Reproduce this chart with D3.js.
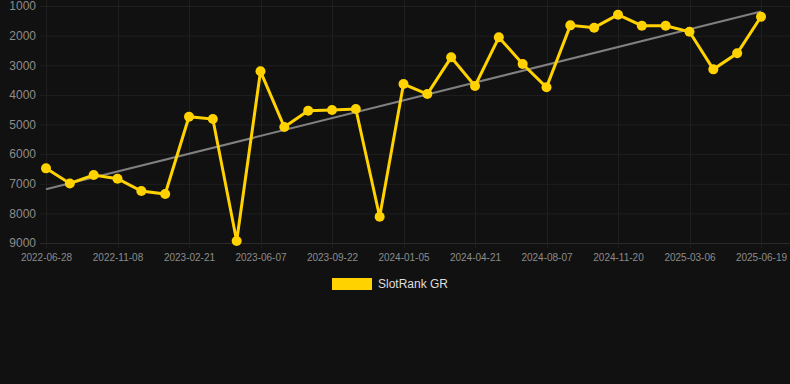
<!DOCTYPE html>
<html>
<head>
<meta charset="utf-8">
<script src="https://cdn.jsdelivr.net/npm/d3@7"></script>
<style>
  html, body { margin: 0; padding: 0; background: #111111; }
  svg { display: block; font-family: "Liberation Sans", Arial, sans-serif; }
</style>
</head>
<body>
<script>
// dates of the data points (only every third one is labelled on the axis)
const categories = [
  '2022-06-28', '2022-08-11', '2022-09-25', '2022-11-08', '2022-12-13', '2023-01-17',
  '2023-02-21', '2023-03-28', '2023-05-03', '2023-06-07', '2023-07-13', '2023-08-17',
  '2023-09-22', '2023-10-27', '2023-12-01', '2024-01-05', '2024-02-09', '2024-03-16',
  '2024-04-21', '2024-05-27', '2024-07-02', '2024-08-07', '2024-09-11', '2024-10-16',
  '2024-11-20', '2024-12-25', '2025-01-29', '2025-03-06', '2025-04-10', '2025-05-15',
  '2025-06-19'
];

// SlotRank GR rank values
const rankValues = [
  6480, 6990, 6705, 6830, 7246, 7347,
  4737, 4815, 8933, 3205, 5085, 4534,
  4511, 4477, 8113, 3633, 3971, 2733,
  3701, 2058, 2958, 3745, 1653, 1732,
  1293, 1664, 1664, 1867, 3139, 2597,
  1361
];

const yTicks = [1000, 2000, 3000, 4000, 5000, 6000, 7000, 8000, 9000];
const xTickLabels = categories.filter(function (d, i) { return i % 3 === 0; });

const seriesName = 'SlotRank GR';
const lineColor = '#ffd200';

const width = 790;
const height = 384;

const svg = d3.select('body')
  .append('svg')
  .attr('width', width)
  .attr('height', height);

let x = d3.scalePoint().domain(categories).range([46, 761]);
let y = d3.scaleLinear().domain([1000, 9000]).range([6, 243]);

// grid
svg.append('g')
  .attr('class', 'grid-y')
  .selectAll('line')
  .data(yTicks)
  .enter()
  .append('line')
  .attr('x1', 40)
  .attr('x2', width)
  .attr('y1', function (d) { return y(d) + 0.5; })
  .attr('y2', function (d) { return y(d) + 0.5; })
  .style('stroke', function (d) { return d === 9000 ? '#2a2a2a' : '#1f1f1f'; })
  .style('stroke-width', 1);

svg.append('g')
  .attr('class', 'grid-x')
  .selectAll('line')
  .data(xTickLabels)
  .enter()
  .append('line')
  .attr('x1', function (d) { return Math.round(x(d)) + 0.5; })
  .attr('x2', function (d) { return Math.round(x(d)) + 0.5; })
  .attr('y1', 0)
  .attr('y2', y(9000) + 5)
  .style('stroke', '#1f1f1f')
  .style('stroke-width', 1);

// axes
let yAxis = d3.axisLeft(y).tickValues(yTicks).tickSize(0).tickPadding(10).tickFormat(d3.format('d'));
let xAxis = d3.axisBottom(x).tickValues(xTickLabels).tickSize(0).tickPadding(11);

let gy = svg.append('g')
  .attr('transform', 'translate(46,0)')
  .call(yAxis);
gy.select('.domain').remove();
gy.selectAll('text')
  .style('font-size', '12px')
  .style('fill', '#8c8c8c');

let gx = svg.append('g')
  .attr('transform', 'translate(0,' + y(9000) + ')')
  .call(xAxis);
gx.select('.domain').remove();
gx.selectAll('text')
  .style('font-size', '10px')
  .style('fill', '#8c8c8c');

// linear trend from the data
let n = rankValues.length;
let xs = d3.range(n);
let mx = d3.mean(xs);
let my = d3.mean(rankValues);
let slope = d3.sum(xs, function (i) { return (i - mx) * (rankValues[i] - my); }) /
  d3.sum(xs, function (i) { return (i - mx) * (i - mx); });
let intercept = my - slope * mx;

svg.append('line')
  .attr('class', 'trend')
  .attr('x1', x(categories[0]))
  .attr('y1', y(intercept))
  .attr('x2', x(categories[n - 1]))
  .attr('y2', y(intercept + slope * (n - 1)))
  .style('stroke', '#808080')
  .style('stroke-width', 2);

// series line
let line = d3.line()
  .x(function (d, i) { return x(categories[i]); })
  .y(function (d) { return y(d); });

svg.append('path')
  .datum(rankValues)
  .attr('d', line)
  .style('fill', 'none')
  .style('stroke', lineColor)
  .style('stroke-width', 3)
  .style('stroke-linejoin', 'miter');

svg.selectAll('.dot')
  .data(rankValues)
  .enter()
  .append('circle')
  .attr('class', 'dot')
  .attr('r', 5)
  .attr('cx', function (d, i) { return x(categories[i]); })
  .attr('cy', function (d) { return y(d); })
  .style('fill', lineColor);

// legend
let legend = svg.append('g').attr('id', 'legend');
legend.append('rect')
  .attr('x', 332)
  .attr('y', 278)
  .attr('width', 40)
  .attr('height', 12)
  .style('fill', lineColor);
legend.append('text')
  .attr('x', 378)
  .attr('y', 284)
  .attr('dy', '.35em')
  .style('font-size', '12px')
  .style('fill', '#dddddd')
  .text(seriesName);
</script>
</body>
</html>
